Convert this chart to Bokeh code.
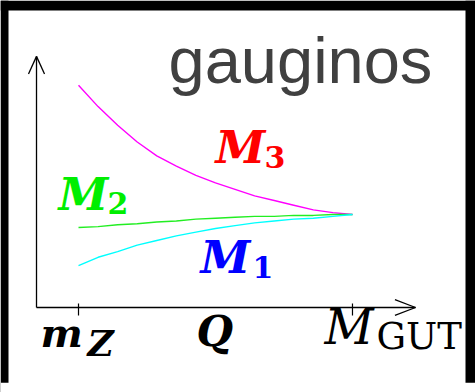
from bokeh.plotting import figure
from bokeh.models import Range1d, Label, BoxAnnotation
from bokeh.embed import file_html
from bokeh.resources import INLINE

# Running scale: log10(Q / GeV), from m_Z up to M_GUT
log_q = [2, 3, 4, 5, 6, 7, 8, 9, 10, 11, 12, 13, 14, 15, 16]

# Gaugino masses in units of the unified mass m_1/2
m3 = [2.39, 2.16, 1.96, 1.78, 1.63, 1.52, 1.42, 1.34, 1.27, 1.20, 1.15, 1.10, 1.05, 1.02, 1.00]
m2 = [0.86, 0.87, 0.89, 0.90, 0.92, 0.93, 0.95, 0.96, 0.97, 0.98, 0.98, 0.99, 0.99, 1.00, 1.00]
m1 = [0.45, 0.54, 0.60, 0.67, 0.72, 0.77, 0.81, 0.85, 0.88, 0.91, 0.93, 0.95, 0.96, 0.98, 1.00]

# Scale marks on the Q axis
tick_pos = [2, 16]

SERIF = "DejaVu Serif"

p = figure(width=475, height=392,
           x_range=Range1d(-1.986, 22.286), y_range=Range1d(-0.914, 3.301),
           output_backend="svg", toolbar_location=None,
           x_axis_type=None, y_axis_type=None,
           min_border=0,
           border_fill_color="white", background_fill_color="white",
           outline_line_color=None)
p.grid.visible = False

# Black frame around the drawing area (left, top, right)
for box in (dict(right=-1.577), dict(bottom=3.194), dict(left=21.775)):
    p.add_layout(BoxAnnotation(fill_color="black", fill_alpha=1.0, line_color=None, **box))

# Curves
p.line(log_q, m3, line_color="#ff00ff", line_width=1.4)
p.line(log_q, m2, line_color="#22ee22", line_width=1.4)
p.line(log_q, m1, line_color="#00ffff", line_width=1.4)

# Axes: two lines meeting at the origin, each ending in an open arrow head
x0, q_end, m_end = -0.146, 19.22, 2.70
hx, hy = 1.05, 0.085     # horizontal head: length along Q, half-width along M
vx, vy = 0.41, 0.19      # vertical head: half-width along Q, length along M
p.segment(x0=[x0, x0, q_end, q_end, x0, x0],
          y0=[0, 0, 0, 0, m_end, m_end],
          x1=[q_end, x0, q_end - hx, q_end - hx, x0 - vx, x0 + vx],
          y1=[0, m_end, hy, -hy, m_end - vy, m_end - vy],
          line_color="black", line_width=1.3)
p.segment(x0=tick_pos, y0=[0.043] * len(tick_pos), x1=tick_pos, y1=[-0.086] * len(tick_pos),
          line_color="black", line_width=1.2)


def lab(x, y, text, size, color="black", style="bold italic", font=SERIF, dx=0, dy=0):
    # y is the text baseline; the offset lifts the glyph box onto it
    p.add_layout(Label(x=x, y=y, x_offset=dx, y_offset=dy + 0.346 * size, text=text,
                       text_font=font, text_font_style=style,
                       text_font_size=f"{size}px", text_color=color,
                       text_baseline="alphabetic", text_align="left"))


# Title
lab(6.60, 2.409, "gauginos", 65, color="#404040", style="normal", font="Liberation Sans")

# Curve labels
lab(9.00, 1.548, "M", 45, color="red")
lab(9.00, 1.548, "3", 30, color="red", style="bold", dx=49, dy=-4)
lab(0.978, 1.043, "M", 45, color="#00ee00")
lab(0.978, 1.043, "2", 30, color="#00ee00", style="bold", dx=49, dy=-3)
lab(8.234, 0.366, "M", 45, color="blue")
lab(8.234, 0.366, "1", 30, color="blue", style="bold", dx=52, dy=-4)

# Axis labels
lab(0.058, -0.419, "m", 40)
lab(0.058, -0.419, "Z", 36, dx=47, dy=-9)
lab(8.03, -0.409, "Q", 42)
lab(14.57, -0.387, "M", 48, style="italic")
lab(14.57, -0.387, "GUT", 37, style="normal", dx=52, dy=-6)

# Keep the strip below the labels clean white, drawn over everything else
p.add_layout(BoxAnnotation(top=-0.81, fill_color="white", fill_alpha=1.0,
                           line_color=None, level="overlay"))

open("out.html", "w").write(file_html(p, INLINE))
